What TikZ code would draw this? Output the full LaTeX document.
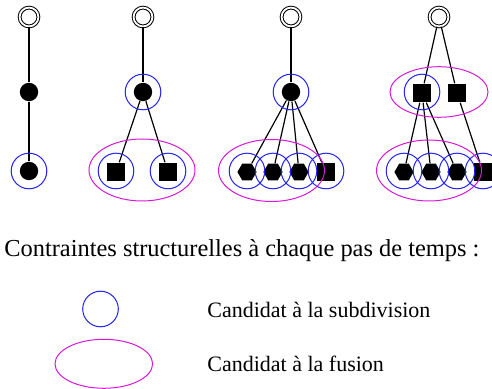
\documentclass[tikz,border=0pt]{standalone}
\usepackage{fontspec}
\setmainfont{Liberation Serif}
\usetikzlibrary{shapes.geometric}

\definecolor{subdivblue}{RGB}{35,35,250}
\definecolor{fusionmag}{RGB}{215,25,215}

\begin{document}
\begin{tikzpicture}[
  x=0.5pt, y=-0.5pt,
  every node/.style={font=\rmfamily},
  root/.style={circle, draw=black, double, double distance=0.9pt, line width=0.5pt, minimum size=9.4pt, inner sep=0pt},
  dot/.style={circle, fill=black, minimum size=9.2pt, inner sep=0pt},
  sq/.style={rectangle, fill=black, minimum size=9.3pt, inner sep=0pt},
  hex/.style={regular polygon, regular polygon sides=6, fill=black, minimum size=9.6pt, inner sep=0pt},
  subdiv/.style={circle, draw=subdivblue, line width=0.5pt, minimum size=17.8pt, inner sep=0pt},
  fusion/.style={ellipse, draw=fusionmag, line width=0.5pt, minimum width=53pt, minimum height=31pt, inner sep=0pt},
  edge/.style={line width=0.6pt},
]

\useasboundingbox (0,0) rectangle (492,389);

% colonne 1
\node[root] (r1) at (29,17) {};
\node[dot] (m1) at (29,92) {};
\node[dot] (b1) at (29,171) {};

% colonne 2
\node[root] (r2) at (143,17) {};
\node[dot] (m2) at (143,92) {};
\node[sq] (b2a) at (116,172) {};
\node[sq] (b2b) at (168,172) {};

% colonne 3
\node[root] (r3) at (291,17) {};
\node[dot] (m3) at (291,92) {};
\node[hex] (b3a) at (247,172) {};
\node[hex] (b3b) at (273,172) {};
\node[hex] (b3c) at (299,172) {};
\node[sq] (b3d) at (326,172) {};

% colonne 4
\node[root] (r4) at (439,17) {};
\node[sq] (m4a) at (422,93) {};
\node[sq] (m4b) at (457,93) {};
\node[hex] (b4a) at (404,172) {};
\node[hex] (b4b) at (431,172) {};
\node[hex] (b4c) at (457,172) {};
\node[sq] (b4d) at (483,172) {};

\draw[edge] (r1) -- (m1);
\draw[edge] (m1) -- (b1);
\draw[edge] (r2) -- (m2);
\draw[edge] (m2) -- (b2a);
\draw[edge] (m2) -- (b2b);
\draw[edge] (r3) -- (m3);
\draw[edge] (m3) -- (b3a);
\draw[edge] (m3) -- (b3b);
\draw[edge] (m3) -- (b3c);
\draw[edge] (m3) -- (b3d);
\draw[edge] (r4) -- (m4a);
\draw[edge] (r4) -- (m4b);
\draw[edge] (m4a) -- (b4a);
\draw[edge] (m4a) -- (b4b);
\draw[edge] (m4a) -- (b4c);
\draw[edge] (m4b) -- (b4d);

% candidats
\node[subdiv] (s1) at (29,171) {};
\node[subdiv] (s2) at (143,92) {};
\node[subdiv] (s2a) at (116,171) {};
\node[subdiv] (s2b) at (168,171) {};
\node[subdiv] (s3) at (291,92) {};
\node[subdiv] (s3a) at (247,171) {};
\node[subdiv] (s3b) at (273,171) {};
\node[subdiv] (s3c) at (299,171) {};
\node[subdiv] (s3d) at (326,171) {};
\node[subdiv] (s4) at (422,92) {};
\node[subdiv] (s4a) at (404,171) {};
\node[subdiv] (s4b) at (431,171) {};
\node[subdiv] (s4c) at (457,171) {};
\node[subdiv] (s4d) at (483,171) {};

\node[fusion] (f2) at (142,170) {};
\node[fusion] (f3) at (271.5,170.5) {};
\node[fusion, minimum width=49pt, minimum height=25.3pt] (f4a) at (439,92) {};
\node[fusion, minimum width=52.5pt, minimum height=30.5pt] (f4b) at (429,170.5) {};

% legende
\node[anchor=base west, font=\rmfamily\fontsize{12.2}{14}\selectfont, inner sep=0pt] (titre) at (4,257) {Contraintes structurelles à chaque pas de temps :};

\node[subdiv] (lsub) at (100.5,309) {};
\node[fusion, minimum width=48.8pt, minimum height=24.5pt] (lfus) at (103.8,363.8) {};
\node[anchor=base west, font=\rmfamily\fontsize{11}{13}\selectfont, inner sep=0pt] (tsub) at (207,318) {Candidat à la subdivision};
\node[anchor=base west, font=\rmfamily\fontsize{11}{13}\selectfont, inner sep=0pt] (tfus) at (207,371.5) {Candidat à la fusion};

\end{tikzpicture}
\end{document}
